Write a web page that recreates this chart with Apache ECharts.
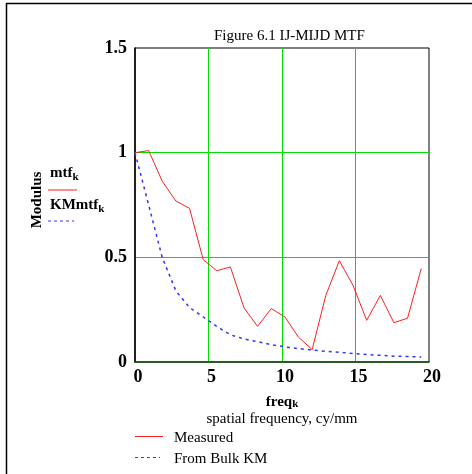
<!DOCTYPE html>
<html>
<head>
<meta charset="utf-8">
<script src="https://cdn.jsdelivr.net/npm/echarts@6/dist/echarts.min.js"></script>
<style>
html,body{margin:0;padding:0;background:#fff;}
#chart{width:472px;height:474px;}
</style>
</head>
<body>
<div id="chart"></div>
<script>
// Data
var freq = [0, 0.93, 1.85, 2.78, 3.71, 4.64, 5.56, 6.49, 7.42, 8.34, 9.27, 10.2, 11.12, 12.05, 12.98, 13.9, 14.83, 15.76, 16.69, 17.61, 18.54, 19.47];
var measured = [1.0, 1.01, 0.864, 0.769, 0.734, 0.489, 0.436, 0.454, 0.258, 0.170, 0.255, 0.215, 0.119, 0.059, 0.318, 0.484, 0.366, 0.199, 0.318, 0.188, 0.209, 0.446];
var bulkKM = [1.0, 0.75, 0.50, 0.34, 0.26, 0.215, 0.17, 0.13, 0.11, 0.097, 0.083, 0.072, 0.064, 0.057, 0.051, 0.046, 0.041, 0.036, 0.032, 0.028, 0.026, 0.024];
var xTicks = [0, 5, 10, 15, 20];
var yTicks = [0, 0.5, 1, 1.5];
var seriesNames = ['Measured', 'From Bulk KM'];
var titleText = 'Figure 6.1 IJ-MIJD MTF';

var serif = '"Liberation Serif", "Times New Roman", serif';
var redC = '#ff2020', blueC = '#3535ff';
function pairs(xs, ys) { return xs.map(function (x, i) { return [x, ys[i]]; }); }

var chart = echarts.init(document.getElementById('chart'), null, {renderer: 'canvas'});
chart.setOption({
  backgroundColor: '#fff',
  animation: false,
  title: {
    text: titleText,
    left: 209, top: 24,
    textStyle: {fontFamily: serif, fontSize: 15, fontWeight: 'normal', color: '#000'}
  },
  grid: {left: 135, right: 43, top: 48, bottom: 112, show: true, borderColor: '#000', borderWidth: 1, backgroundColor: 'transparent'},
  xAxis: {
    type: 'value', min: xTicks[0], max: xTicks[xTicks.length - 1], interval: 5,
    axisLine: {show: true, lineStyle: {color: '#0f4f0f', width: 1.5}},
    axisTick: {show: false},
    splitLine: {show: true, showMinLine: false, lineStyle: {color: '#00e000', width: 1}},
    axisLabel: {
      margin: 6,
      formatter: function (v) { return '{t|' + v + '}'; },
      rich: {t: {fontFamily: serif, fontSize: 18, fontWeight: 'bold', color: '#000', padding: [0, 0, 0, 6]}}
    },
    name: '{a|freq}{s|k}\n{b|spatial frequency, cy/mm}',
    nameLocation: 'middle', nameGap: 31,
    nameTextStyle: {
      align: 'center', verticalAlign: 'top',
      rich: {
        a: {fontFamily: serif, fontSize: 15, fontWeight: 'bold', color: '#000', lineHeight: 17, verticalAlign: 'bottom'},
        s: {fontFamily: serif, fontSize: 11, fontWeight: 'bold', color: '#000', lineHeight: 17, padding: [6, 0, 0, 0]},
        b: {fontFamily: serif, fontSize: 15, color: '#000', lineHeight: 18}
      }
    }
  },
  yAxis: {
    type: 'value', min: yTicks[0], max: yTicks[yTicks.length - 1], interval: 0.5,
    axisLine: {show: true, lineStyle: {color: '#000', width: 1.5}},
    axisTick: {show: false},
    splitLine: {show: true, showMinLine: false, showMaxLine: false, lineStyle: {color: '#00e000', width: 1}},
    axisLabel: {margin: 8, fontFamily: serif, fontSize: 18, fontWeight: 'bold', color: '#000'}
  },
  series: [
    {
      name: seriesNames[0], type: 'line', data: pairs(freq, measured),
      symbol: 'none', lineStyle: {color: redC, width: 1}, itemStyle: {color: redC}, z: 3
    },
    {
      name: seriesNames[1], type: 'line', data: pairs(freq, bulkKM),
      symbol: 'none', smooth: false,
      lineStyle: {color: blueC, width: 1.5, type: [3, 4]}, itemStyle: {color: blueC}, z: 2
    }
  ],
  graphic: [
    // outer frame (left and top edges)
    {type: 'line', shape: {x1: 6.5, y1: 3, x2: 6.5, y2: 474}, style: {stroke: '#000', lineWidth: 1.5}, silent: true},
    {type: 'line', shape: {x1: 6, y1: 3.5, x2: 472, y2: 3.5}, style: {stroke: '#000', lineWidth: 1.5}, silent: true},
    // y axis name
    {type: 'text', x: 37, y: 200, rotation: Math.PI / 2,
      style: {text: 'Modulus', fontFamily: serif, fontSize: 15, fontWeight: 'bold', fill: '#000', align: 'center', verticalAlign: 'middle'}},
    // trace labels
    {type: 'text', x: 50, y: 173,
      style: {text: '{a|mtf}{s|k}', verticalAlign: 'middle',
        rich: {a: {fontFamily: serif, fontSize: 15, fontWeight: 'bold', fill: '#000'},
               s: {fontFamily: serif, fontSize: 11, fontWeight: 'bold', fill: '#000', padding: [8, 0, 0, 0]}}}},
    {type: 'line', shape: {x1: 48, y1: 190, x2: 77, y2: 190}, style: {stroke: redC, lineWidth: 1}},
    {type: 'text', x: 50, y: 205,
      style: {text: '{a|KMmtf}{s|k}', verticalAlign: 'middle',
        rich: {a: {fontFamily: serif, fontSize: 15, fontWeight: 'bold', fill: '#000'},
               s: {fontFamily: serif, fontSize: 11, fontWeight: 'bold', fill: '#000', padding: [8, 0, 0, 0]}}}},
    {type: 'line', shape: {x1: 48, y1: 221, x2: 74, y2: 221}, style: {stroke: blueC, lineWidth: 1, lineDash: [3, 3]}},
    // bottom legend
    {type: 'line', shape: {x1: 135, y1: 436.5, x2: 163, y2: 436.5}, style: {stroke: redC, lineWidth: 1}},
    {type: 'text', x: 174, y: 438,
      style: {text: seriesNames[0], fontFamily: serif, fontSize: 15, fill: '#000', verticalAlign: 'middle'}},
    {type: 'line', shape: {x1: 135, y1: 457.5, x2: 160, y2: 457.5}, style: {stroke: blueC, lineWidth: 1, lineDash: [3, 3]}},
    {type: 'text', x: 174, y: 459,
      style: {text: seriesNames[1], fontFamily: serif, fontSize: 15, fill: '#000', verticalAlign: 'middle'}}
  ]
});
</script>
</body>
</html>
